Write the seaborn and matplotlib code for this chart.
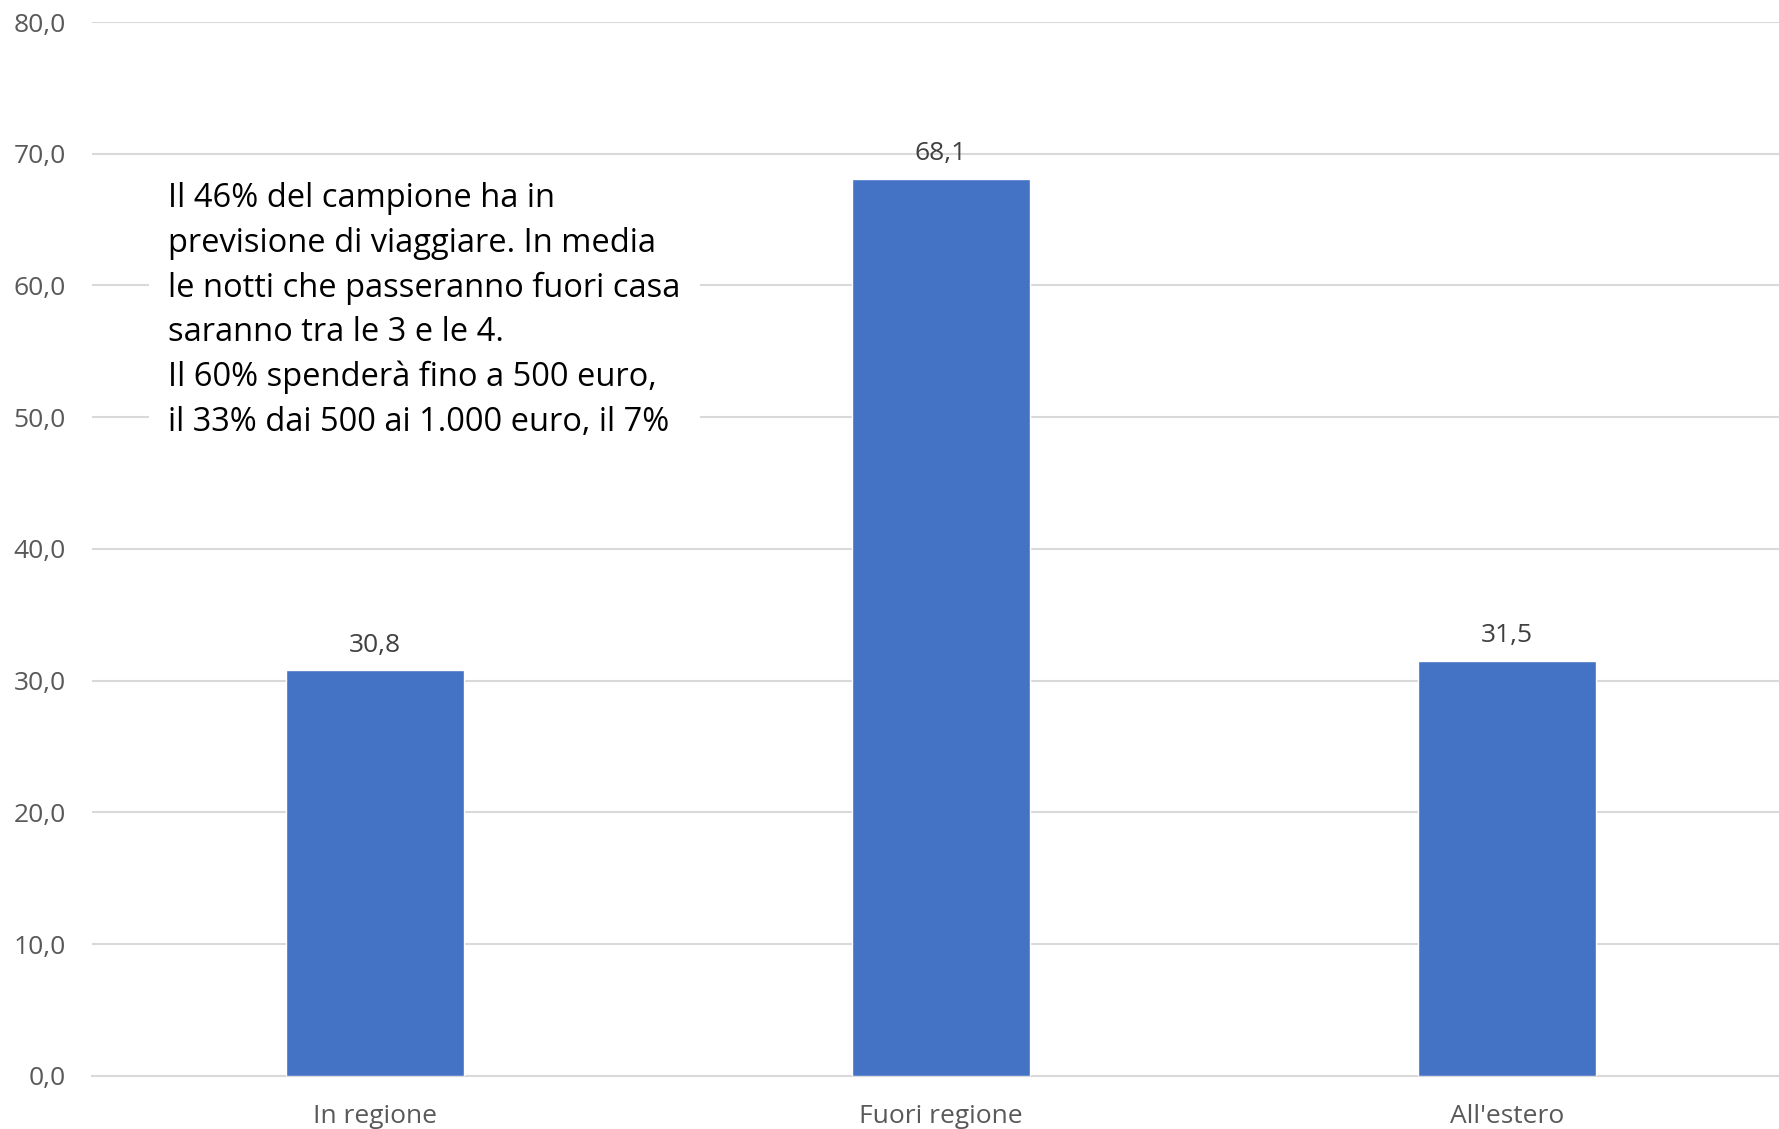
import matplotlib
matplotlib.use("Agg")
import matplotlib.pyplot as plt
import seaborn as sns
import pandas as pd

# Data
categorie = ["In regione", "Fuori regione", "All'estero"]
valori = [30.8, 68.1, 31.5]
yticks = [0, 10, 20, 30, 40, 50, 60, 70, 80]

nota = ("Il 46% del campione ha in\n"
        "previsione di viaggiare. In media\n"
        "le notti che passeranno fuori casa\n"
        "saranno tra le 3 e le 4.\n"
        "Il 60% spenderà fino a 500 euro,\n"
        "il 33% dai 500 ai 1.000 euro, il 7%")

df = pd.DataFrame({"categoria": categorie, "valore": valori})

sns.set_theme(style="white")
plt.rcParams["font.family"] = ["Open Sans", "DejaVu Sans"]

fig = plt.figure(figsize=(17.79, 11.29), dpi=100)
# the plot area runs a little past the right edge, as in the original
ax = fig.add_axes([0.0517, 0.047, 0.9545, 0.9335])

sns.barplot(data=df, x="categoria", y="valore", color="#4472C4",
            width=0.313, saturation=1, ax=ax, zorder=3)

ax.set_ylim(0, 80)
ax.set_xlim(-0.5, 2.5)
ax.set_yticks(yticks)
ax.set_yticklabels([f"{t:.1f}".replace(".", ",") for t in yticks])
ax.yaxis.grid(True, color="#D9D9D9", linewidth=1.5, zorder=0)
ax.set_axisbelow(True)
ax.set_xlabel("")
ax.set_ylabel("")

for s in ["top", "right", "left"]:
    ax.spines[s].set_visible(False)
ax.spines["bottom"].set_color("#D9D9D9")
ax.spines["bottom"].set_linewidth(1.5)

ax.tick_params(axis="y", length=0, labelsize=19, colors="#595959", pad=19)
ax.tick_params(axis="x", length=0, labelsize=19, colors="#595959", pad=20)

etichette = [f"{v:.1f}".replace(".", ",") for v in valori]
ax.bar_label(ax.containers[0], labels=etichette, padding=9,
             fontsize=19, color="#404040")

ax.text(0.045, 0.848, nota, transform=ax.transAxes, fontsize=23.5,
        color="black", va="top", ha="left", linespacing=1.46,
        bbox=dict(facecolor="white", edgecolor="none", pad=14), zorder=5)

fig.savefig("out.png", dpi=100)
